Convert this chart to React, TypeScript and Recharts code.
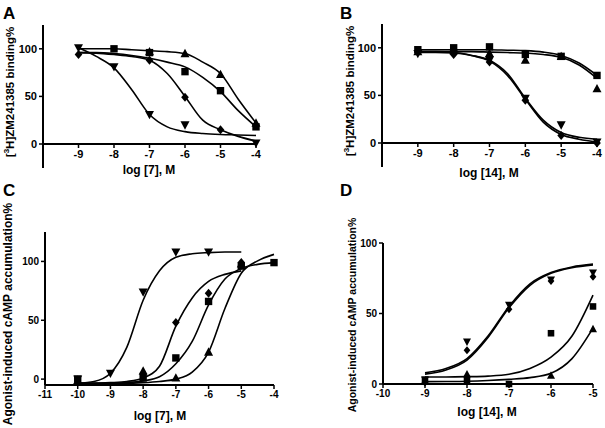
import React from "react";
import { ComposedChart, Line, Scatter, XAxis, YAxis } from "recharts";

// Panel A: [3H]ZM241385 binding vs log [7]
const A_DOSES = [-9, -8, -7, -6, -5, -4];
const A_TRIANGLE = [null, null, 97, 95, 73, 22];
const A_SQUARE = [null, 100, 96, 76, 56, 18];
const A_DIAMOND = [94, null, 88, 49, 15, null];
const A_INV_TRIANGLE = [101, 81, 31, 20, null, 1];
const A_FIT_X = [-9, -8.5, -8, -7.5, -7, -6.5, -6, -5.5, -5, -4.5, -4];
const A_FIT_TRIANGLE = [100, 100, 100, 99, 98, 97, 95, 86, 74, 47, 22];
const A_FIT_SQUARE = [96, 96, 95, 93, 90, 86, 81, 70, 55, 35, 18];
const A_FIT_DIAMOND = [96, 95.5, 94, 92, 88, 74, 50, 25, 15, 8, 3];
const A_FIT_INV_TRIANGLE = [101, 92, 80, 57, 31, 18, 13, 11, 10, 9.5, 9];

// Panel B: [3H]ZM241385 binding vs log [14]
const B_DOSES = [-9, -8, -7, -6, -5, -4];
const B_SQUARE = [98, 100, 101, 93, 91, 71];
const B_TRIANGLE = [96, 97, 94, 87, 91, 57];
const B_DIAMOND = [96, 93, 85, 45, 8, 0];
const B_INV_TRIANGLE = [94, 95, 87, 47, 19, 1];
const B_FIT_X = [-9, -8.5, -8, -7.5, -7, -6.5, -6, -5.5, -5, -4.5, -4];
const B_FIT_SQUARE = [98, 98, 98, 98, 98, 97.5, 97, 95.5, 92, 84, 71];
const B_FIT_TRIANGLE = [96, 96, 96, 96, 95.5, 95, 94.5, 93, 90, 82, 68];
const B_FIT_DIAMOND = [96, 96, 95, 92, 86, 71, 46, 22, 9, 4, 1];
const B_FIT_INV_TRIANGLE = [95, 95, 94.5, 92, 87, 73, 47, 24, 11, 6, 4];

// Panel C: cAMP accumulation vs log [7]
const C_DOSES = [-10, -9, -8, -7, -6, -5, -4];
const C_INV_TRIANGLE = [0, 5, 74, 108, 108, null, null];
const C_DIAMOND = [null, null, 4, 48, 73, 99, null];
const C_SQUARE = [0, null, 1, 18, 66, 96, 99];
const C_TRIANGLE = [-1, null, 7, 1, 23, 98, null];
const C_FIT_X = [-10, -9.5, -9, -8.5, -8, -7.5, -7, -6.5, -6, -5.5, -5, -4.5, -4];
const C_FIT_INV_TRIANGLE = [-3.5, -2, 5, 27, 67, 92, 103.5, 106.5, 107.5, 108, 108, null, null];
const C_FIT_DIAMOND = [-3.5, -3.5, -3, -2, 1, 11, 45, 69, 83, 89, 92, null, null];
const C_FIT_SQUARE = [-3.5, -3.5, -3.5, -3, -1.5, 2, 13, 32, 63, 85, 94, 97.5, 99];
const C_FIT_TRIANGLE = [-3.5, -3.5, -3.5, -3.5, -3, -2, 0, 6, 23, 60, 90, 100.5, 106];

// Panel D: cAMP accumulation vs log [14]
const D_DOSES = [-9, -8, -7, -6, -5];
const D_INV_TRIANGLE = [3, 30, 56, 74, 79];
const D_DIAMOND = [1, 24, 53, 73, 76];
const D_SQUARE = [3, 3, 0, 36, 55];
const D_TRIANGLE = [2, 7, null, 6, 39];
const D_FIT_X = [-9, -8.5, -8, -7.5, -7, -6.5, -6, -5.5, -5];
const D_FIT_INV_TRIANGLE = [8, 11, 18, 34, 55, 71, 79, 83, 85];
const D_FIT_DIAMOND = [7, 10, 17, 33, 54, 70, 78.5, 82.5, 84.5];
const D_FIT_SQUARE = [5, 5, 5.2, 5.6, 6.9, 11, 19, 34, 63];
const D_FIT_TRIANGLE = [1.7, 1.8, 2, 2.5, 3.3, 4.5, 7.6, 18, 39.6];

const FONT = "'Liberation Sans', Arial, sans-serif";
const AXIS_W = 30;
const AXIS_H = 24;

type Kind = "triangle" | "square" | "diamond" | "invTriangle";

function toPoints(xs: number[], ys: (number | null)[]) {
  return xs
    .map((x, i) => ({ x, y: ys[i] }))
    .filter((p) => p.y !== null && p.y !== undefined);
}

function Marker({ cx, cy, kind, size }: { cx: number; cy: number; kind: Kind; size: number }) {
  const h = size / 2;
  if (kind === "square") {
    const s = size * 0.82;
    return <rect x={cx - s / 2} y={cy - s / 2} width={s} height={s} fill="#000" />;
  }
  if (kind === "diamond") {
    return (
      <polygon
        points={`${cx},${cy - h} ${cx + h * 0.85},${cy} ${cx},${cy + h} ${cx - h * 0.85},${cy}`}
        fill="#000"
      />
    );
  }
  const dir = kind === "triangle" ? 1 : -1;
  return (
    <polygon
      points={`${cx},${cy - dir * h * 1.05} ${cx + h},${cy + dir * h * 0.8} ${cx - h},${cy + dir * h * 0.8}`}
      fill="#000"
    />
  );
}

type Series = { kind: Kind; points: (number | null)[]; fit: (number | null)[] };

type PanelProps = {
  box: { left: number; top: number; width: number; height: number };
  plot: { left: number; right: number; top: number; bottom: number };
  xDomain: [number, number];
  xTicks: number[];
  yDomain: [number, number];
  yTicks: number[];
  doses: number[];
  fitX: number[];
  series: Series[];
  axisTail?: number; // px the y axis runs on below the x axis
  tickFont: number;
  markerSize: number;
};

function DosePanel({
  box,
  plot,
  xDomain,
  xTicks,
  yDomain,
  yTicks,
  doses,
  fitX,
  series,
  axisTail,
  tickFont,
  markerSize,
}: PanelProps) {
  const margin = {
    top: plot.top - box.top,
    left: plot.left - box.left - AXIS_W,
    right: box.left + box.width - plot.right,
    bottom: box.top + box.height - plot.bottom - AXIS_H,
  };
  const tick = { fill: "#000", fontSize: tickFont, fontWeight: 700, fontFamily: FONT };
  return (
    <div style={{ position: "absolute", left: box.left, top: box.top }}>
      <ComposedChart width={box.width} height={box.height} margin={margin}>
        <XAxis
          type="number"
          dataKey="x"
          domain={xDomain}
          ticks={xTicks}
          interval={0}
          height={AXIS_H}
          tick={tick}
          tickSize={4}
          tickMargin={2}
          tickLine={{ stroke: "#000", strokeWidth: 1.5 }}
          axisLine={{ stroke: "#000", strokeWidth: 2 }}
        />
        <YAxis
          type="number"
          dataKey="y"
          domain={yDomain}
          ticks={yTicks}
          interval={0}
          width={AXIS_W}
          tick={tick}
          tickSize={4}
          tickMargin={2}
          tickLine={{ stroke: "#000", strokeWidth: 1.5 }}
          axisLine={{ stroke: "#000", strokeWidth: 2 }}
        />
        {series.map((s, i) => (
          <Line
            key={`fit-${i}`}
            data={toPoints(fitX, s.fit)}
            dataKey="y"
            type="monotone"
            stroke="#000"
            strokeWidth={1.6}
            dot={false}
            activeDot={false}
            isAnimationActive={false}
          />
        ))}
        {series.map((s, i) => (
          <Scatter
            key={`pts-${i}`}
            data={toPoints(doses, s.points)}
            isAnimationActive={false}
            shape={(p: any) => <Marker cx={p.cx} cy={p.cy} kind={s.kind} size={markerSize} />}
          />
        ))}
      </ComposedChart>
      {axisTail ? (
        <div
          style={{
            position: "absolute",
            left: plot.left - box.left - 1,
            top: plot.bottom - box.top,
            width: 2,
            height: axisTail,
            background: "#000",
          }}
        />
      ) : null}
    </div>
  );
}

function PanelLetter({ x, y, text }: { x: number; y: number; text: string }) {
  return (
    <div
      style={{
        position: "absolute",
        left: x,
        top: y,
        fontFamily: FONT,
        fontWeight: 700,
        fontSize: 17,
        lineHeight: "17px",
      }}
    >
      {text}
    </div>
  );
}

function XTitle({ cx, cy, children }: { cx: number; cy: number; children: React.ReactNode }) {
  return (
    <div
      style={{
        position: "absolute",
        left: cx - 100,
        top: cy - 7,
        width: 200,
        textAlign: "center",
        fontFamily: FONT,
        fontWeight: 700,
        fontSize: 12,
        lineHeight: "14px",
      }}
    >
      {children}
    </div>
  );
}

function YTitle({
  cx,
  cy,
  size,
  children,
}: {
  cx: number;
  cy: number;
  size: number;
  children: React.ReactNode;
}) {
  return (
    <div
      style={{
        position: "absolute",
        left: cx - 150,
        top: cy - 7,
        width: 300,
        height: 14,
        textAlign: "center",
        whiteSpace: "nowrap",
        transform: "rotate(-90deg)",
        fontFamily: FONT,
        fontWeight: 700,
        fontSize: size,
        lineHeight: "14px",
      }}
    >
      {children}
    </div>
  );
}

const bindingLabel = (
  <>
    [<sup style={{ fontSize: "70%", lineHeight: 0 }}>3</sup>H]ZM241385 binding%
  </>
);

export default function App() {
  return (
    <div
      style={{
        position: "absolute",
        left: 0,
        top: 0,
        width: 605,
        height: 428,
        background: "#fff",
        overflow: "hidden",
      }}
    >
      <DosePanel
        box={{ left: 0, top: 0, width: 300, height: 205 }}
        plot={{ left: 43, right: 256, top: 25, bottom: 144 }}
        xDomain={[-10, -4]}
        xTicks={[-9, -8, -7, -6, -5, -4]}
        yDomain={[0, 125]}
        yTicks={[0, 50, 100]}
        axisTail={24}
        doses={A_DOSES}
        fitX={A_FIT_X}
        tickFont={11}
        markerSize={9}
        series={[
          { kind: "triangle", points: A_TRIANGLE, fit: A_FIT_TRIANGLE },
          { kind: "square", points: A_SQUARE, fit: A_FIT_SQUARE },
          { kind: "diamond", points: A_DIAMOND, fit: A_FIT_DIAMOND },
          { kind: "invTriangle", points: A_INV_TRIANGLE, fit: A_FIT_INV_TRIANGLE },
        ]}
      />
      <DosePanel
        box={{ left: 300, top: 0, width: 305, height: 205 }}
        plot={{ left: 382, right: 597, top: 24, bottom: 143 }}
        xDomain={[-10, -4]}
        xTicks={[-9, -8, -7, -6, -5, -4]}
        yDomain={[0, 125]}
        yTicks={[0, 50, 100]}
        axisTail={24}
        doses={B_DOSES}
        fitX={B_FIT_X}
        tickFont={11}
        markerSize={9}
        series={[
          { kind: "square", points: B_SQUARE, fit: B_FIT_SQUARE },
          { kind: "triangle", points: B_TRIANGLE, fit: B_FIT_TRIANGLE },
          { kind: "diamond", points: B_DIAMOND, fit: B_FIT_DIAMOND },
          { kind: "invTriangle", points: B_INV_TRIANGLE, fit: B_FIT_INV_TRIANGLE },
        ]}
      />
      <DosePanel
        box={{ left: 0, top: 205, width: 300, height: 223 }}
        plot={{ left: 45, right: 274, top: 232, bottom: 385 }}
        xDomain={[-11, -4]}
        xTicks={[-11, -10, -9, -8, -7, -6, -5, -4]}
        yDomain={[-5, 125]}
        yTicks={[0, 50, 100]}
        doses={C_DOSES}
        fitX={C_FIT_X}
        tickFont={10}
        markerSize={9}
        series={[
          { kind: "invTriangle", points: C_INV_TRIANGLE, fit: C_FIT_INV_TRIANGLE },
          { kind: "diamond", points: C_DIAMOND, fit: C_FIT_DIAMOND },
          { kind: "square", points: C_SQUARE, fit: C_FIT_SQUARE },
          { kind: "triangle", points: C_TRIANGLE, fit: C_FIT_TRIANGLE },
        ]}
      />
      <DosePanel
        box={{ left: 300, top: 205, width: 305, height: 223 }}
        plot={{ left: 383, right: 593, top: 243, bottom: 384 }}
        xDomain={[-10, -5]}
        xTicks={[-10, -9, -8, -7, -6, -5]}
        yDomain={[0, 100]}
        yTicks={[0, 50, 100]}
        doses={D_DOSES}
        fitX={D_FIT_X}
        tickFont={10}
        markerSize={8}
        series={[
          { kind: "invTriangle", points: D_INV_TRIANGLE, fit: D_FIT_INV_TRIANGLE },
          { kind: "diamond", points: D_DIAMOND, fit: D_FIT_DIAMOND },
          { kind: "square", points: D_SQUARE, fit: D_FIT_SQUARE },
          { kind: "triangle", points: D_TRIANGLE, fit: D_FIT_TRIANGLE },
        ]}
      />

      <PanelLetter x={3} y={5} text="A" />
      <PanelLetter x={340} y={5} text="B" />
      <PanelLetter x={3} y={182} text="C" />
      <PanelLetter x={340} y={182} text="D" />

      <XTitle cx={149} cy={170}>log [7], M</XTitle>
      <XTitle cx={489} cy={173}>log [14], M</XTitle>
      <XTitle cx={160} cy={416}>log [7], M</XTitle>
      <XTitle cx={487} cy={412}>log [14], M</XTitle>

      <YTitle cx={10} cy={92} size={11.5}>{bindingLabel}</YTitle>
      <YTitle cx={350} cy={91} size={11.5}>{bindingLabel}</YTitle>
      <YTitle cx={8} cy={314} size={12}>Agonist-induced cAMP accumulation%</YTitle>
      <YTitle cx={352} cy={315} size={10.5}>Agonist-induced cAMP accumulation%</YTitle>
    </div>
  );
}
